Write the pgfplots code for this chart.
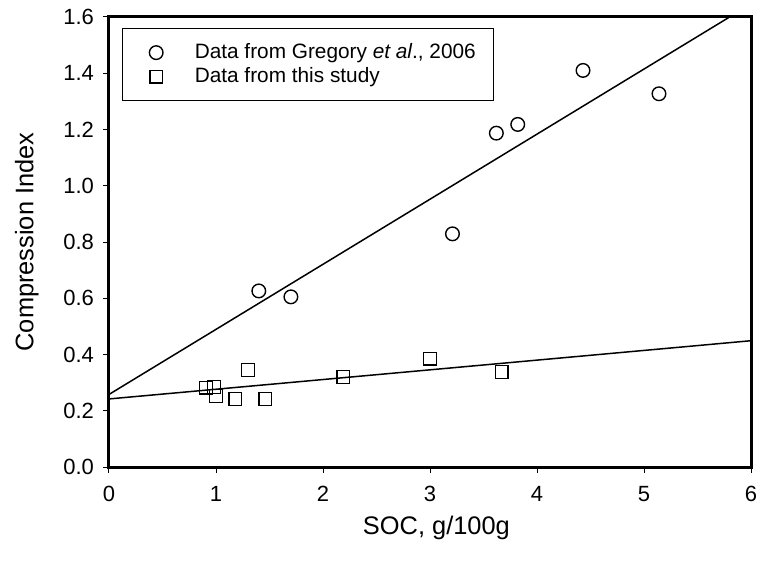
\documentclass[border=0pt]{standalone}
\usepackage{pgfplots}
\pgfplotsset{compat=1.18}
\usepackage{fontspec}
\setmainfont{Liberation Sans}
\begin{document}
\begin{tikzpicture}
\begin{axis}[
  name=ax,
  scale only axis,
  width=321pt, height=225pt,
  xmin=0, xmax=6, ymin=0, ymax=1.6,
  xtick={0,1,2,3,4,5,6},
  ytick={0,0.2,0.4,0.6,0.8,1.0,1.2,1.4,1.6},
  yticklabel style={/pgf/number format/fixed, /pgf/number format/fixed zerofill, /pgf/number format/precision=1},
  /pgf/number format/assume math mode=true,
  ticklabel style={font=\fontsize{11}{13}\selectfont},
  tick align=outside,
  xtick pos=bottom, ytick pos=left,
  major tick length=3pt,
  tick style={black, line width=0.5pt},
  axis line style={line width=1.5pt},
  xticklabel style={yshift=-3pt},
  yticklabel style={xshift=-1pt},
  xlabel={SOC, g/100g},
  ylabel={Compression Index},
  label style={font=\fontsize{12.7}{15}\selectfont},
  xlabel style={at={(axis description cs:0.51,-0.135)}, anchor=center},
  ylabel style={at={(axis description cs:-0.128,0.5)}, anchor=center},
  clip=true,
  legend image code/.code={\path (0pt,0pt) (26.5pt,0pt); \draw[#1] plot coordinates {(9.5pt,0pt)};},
  legend style={at={(axis description cs:0,1)}, anchor=north west, xshift=6.5pt, yshift=-5.5pt,
    draw=black, line width=0.6pt, font=\fontsize{10.4}{12.5}\selectfont,
    inner xsep=7pt, inner ysep=5.5pt, row sep=-1pt},
  legend cell align=left,
]
\addplot[only marks, mark=o, mark size=3.4pt, mark options={line width=0.7pt, fill=white}] coordinates {
  (1.40,0.626) (1.70,0.605) (3.21,0.829) (3.62,1.187) (3.82,1.218) (4.43,1.410) (5.14,1.327)
};
\addlegendentry{Data from Gregory \textit{et al}., 2006}
\addplot[only marks, mark=square, mark size=3.2pt, mark options={line width=0.7pt, fill=white}] coordinates {
  (0.907,0.282) (0.981,0.285) (1.00,0.253) (1.18,0.242) (1.30,0.345) (1.46,0.242) (2.19,0.320) (3.00,0.385) (3.67,0.338)
};
\addlegendentry{Data from this study}
\addplot[black, line width=0.75pt, forget plot] coordinates {(0,0.258) (5.80,1.600)};
\addplot[black, line width=0.75pt, forget plot] coordinates {(0,0.242) (6,0.449)};
\end{axis}
\pgfresetboundingbox
\path ([shift={(-54.5pt,-50pt)}]ax.south west) rectangle ([shift={(5pt,8.5pt)}]ax.north east);
\end{tikzpicture}
\end{document}
